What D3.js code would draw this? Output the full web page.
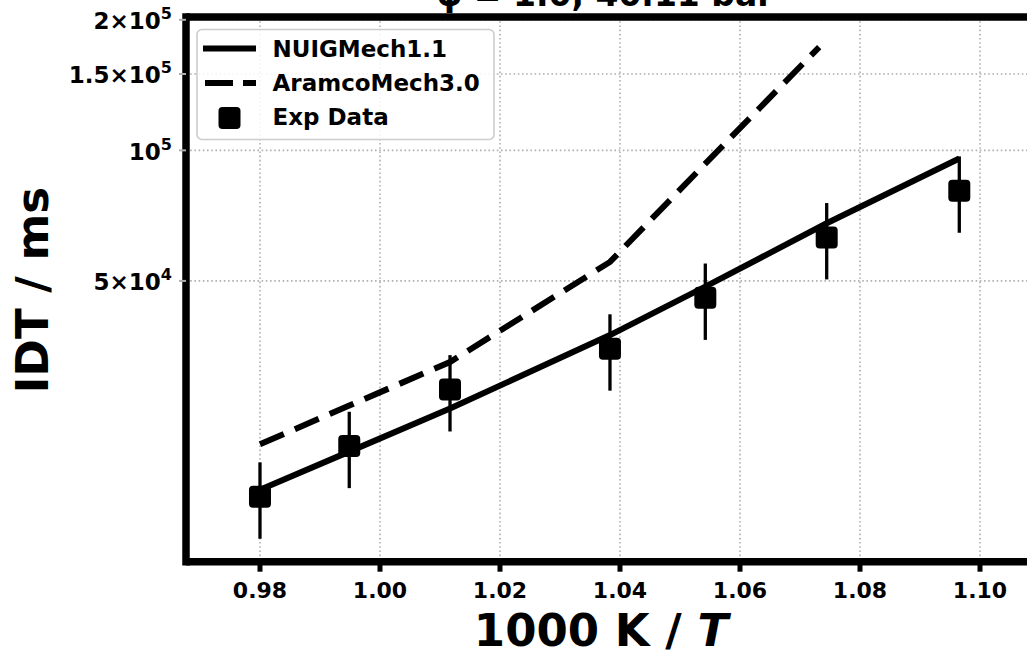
<!DOCTYPE html>
<html>
<head>
<meta charset="utf-8">
<script src="https://cdn.jsdelivr.net/npm/d3@7"></script>
<style>
  html, body { margin: 0; padding: 0; background: #fff; }
  svg { display: block; font-family: "DejaVu Sans", sans-serif; font-weight: bold; }
</style>
</head>
<body>
<svg id="chart" width="1027" height="657"></svg>
<script>
// ---- data ----
const expX = [0.98, 0.99488, 1.01167, 1.03833, 1.05422, 1.07445, 1.09655];
const expY = [15900, 20800, 28100, 34900, 45700, 63000, 80700];
const expErrFrac = 0.20;

const nuigX = [0.98, 0.99488, 1.01167, 1.03833, 1.05422, 1.07445, 1.09655];
const nuigY = [16500, 20200, 25400, 37500, 48500, 67900, 95800];

const aramcoX = [0.98, 0.99488, 1.01167, 1.03833, 1.05422, 1.0732];
const aramcoY = [21000, 25800, 32500, 55300, 93200, 173000];

const xTicks = [0.98, 1.00, 1.02, 1.04, 1.06, 1.08, 1.10];
const yTicks = [50000, 100000, 150000, 200000];
const yTickLabels = [["5×10", "4"], ["10", "5"], ["1.5×10", "5"], ["2×10", "5"]];

const legendLabels = ["NUIGMech1.1", "AramcoMech3.0", "Exp Data"];
const titleText = "φ = 1.0, 40.11 bar";
const xLabel = "1000 K / ";
const xLabelItalic = "T";
const yLabel = "IDT / ms";

// ---- layout ----
const svg = d3.select("#chart");
const pL = 186, pR = 1202, pT = 17, pB = 561.7;

const x = d3.scaleLinear().domain([0.96767, 1.1370]).range([pL, pR]);
const y = d3.scaleLog().domain([11260, 203000]).range([pB, pT]);

svg.append("rect").attr("width", 1027).attr("height", 657).attr("fill", "#fff");

// grid
const grid = svg.append("g");
grid.selectAll("line.gx").data(xTicks).enter().append("line")
  .attr("x1", d => x(d)).attr("x2", d => x(d))
  .attr("y1", pT).attr("y2", pB)
  .attr("stroke", "#b0b0b0").attr("stroke-width", 1.6).attr("stroke-dasharray", "1.6,2.6");
grid.selectAll("line.gy").data(yTicks).enter().append("line")
  .attr("x1", pL).attr("x2", pR)
  .attr("y1", d => y(d)).attr("y2", d => y(d))
  .attr("stroke", "#b0b0b0").attr("stroke-width", 1.6).attr("stroke-dasharray", "1.6,2.6");

// lines
const line = d3.line().x(d => x(d[0])).y(d => y(d[1]));
svg.append("path")
  .datum(nuigX.map((v, i) => [v, nuigY[i]]))
  .attr("d", line).attr("fill", "none").attr("stroke", "#000")
  .attr("stroke-width", 6).attr("stroke-linejoin", "round");
svg.append("path")
  .datum(aramcoX.map((v, i) => [v, aramcoY[i]]))
  .attr("d", line).attr("fill", "none").attr("stroke", "#000")
  .attr("stroke-width", 6).attr("stroke-dasharray", "26,12");

// error bars
svg.selectAll("line.err").data(expX).enter().append("line")
  .attr("x1", d => x(d)).attr("x2", d => x(d))
  .attr("y1", (d, i) => y(expY[i] * (1 + expErrFrac)))
  .attr("y2", (d, i) => y(expY[i] * (1 - expErrFrac)))
  .attr("stroke", "#000").attr("stroke-width", 3.3);

// markers
const ms = 22;
svg.selectAll("rect.mk").data(expX).enter().append("rect")
  .attr("x", d => x(d) - ms / 2)
  .attr("y", (d, i) => y(expY[i]) - ms / 2)
  .attr("width", ms).attr("height", ms).attr("rx", 4)
  .attr("fill", "#000");

// spines
svg.append("line").attr("x1", pL).attr("x2", 1027).attr("y1", pT).attr("y2", pT)
  .attr("stroke", "#000").attr("stroke-width", 7.5);
svg.append("line").attr("x1", pL).attr("x2", 1027).attr("y1", pB).attr("y2", pB)
  .attr("stroke", "#000").attr("stroke-width", 7.5);
svg.append("line").attr("x1", pL).attr("x2", pL).attr("y1", pT - 3.75).attr("y2", pB + 3.75)
  .attr("stroke", "#000").attr("stroke-width", 7.5);

// x ticks
svg.selectAll("line.xt").data(xTicks).enter().append("line")
  .attr("x1", d => x(d)).attr("x2", d => x(d))
  .attr("y1", pB).attr("y2", pB + 10)
  .attr("stroke", "#000").attr("stroke-width", 5);
svg.selectAll("text.xt").data(xTicks).enter().append("text")
  .attr("x", d => x(d)).attr("y", 598)
  .attr("text-anchor", "middle").attr("font-size", 22)
  .text(d => d.toFixed(2));

// y ticks
svg.selectAll("line.yt").data(yTicks).enter().append("line")
  .attr("x1", pL - 7).attr("x2", pL)
  .attr("y1", d => y(d)).attr("y2", d => y(d))
  .attr("stroke", "#b0b0b0").attr("stroke-width", 2);
const yt = svg.selectAll("text.yt").data(yTicks).enter().append("text")
  .attr("x", 172).attr("y", d => y(d) + 9.5)
  .attr("text-anchor", "end").attr("font-size", 23);
yt.append("tspan").text((d, i) => yTickLabels[i][0]);
yt.append("tspan").attr("font-size", 16).attr("dy", -10).text((d, i) => yTickLabels[i][1]);

// axis labels
const xl = svg.append("text").attr("x", 601).attr("y", 646)
  .attr("text-anchor", "middle").attr("font-size", 45);
xl.append("tspan").text(xLabel);
xl.append("tspan").attr("font-style", "italic").text(xLabelItalic);

svg.append("text").attr("transform", "translate(48,290) rotate(-90)")
  .attr("text-anchor", "middle").attr("font-size", 45).text(yLabel);

// title (cut off at the top edge, as in the reference)
svg.append("text").attr("x", 605).attr("y", 6)
  .attr("text-anchor", "middle").attr("font-size", 33).text(titleText);

// legend
const lg = svg.append("g");
lg.append("rect").attr("x", 197).attr("y", 29.5).attr("width", 297).attr("height", 110)
  .attr("rx", 5).attr("fill", "#fff").attr("fill-opacity", 0.85)
  .attr("stroke", "#cccccc").attr("stroke-width", 1.6);
lg.append("line").attr("x1", 203).attr("x2", 256).attr("y1", 48.5).attr("y2", 48.5)
  .attr("stroke", "#000").attr("stroke-width", 6);
lg.append("line").attr("x1", 205).attr("x2", 256).attr("y1", 83).attr("y2", 83)
  .attr("stroke", "#000").attr("stroke-width", 6).attr("stroke-dasharray", "28,10");
lg.append("rect").attr("x", 229.5 - ms / 2).attr("y", 118 - ms / 2)
  .attr("width", ms).attr("height", ms).attr("rx", 4).attr("fill", "#000");
lg.selectAll("text.lg").data(legendLabels).enter().append("text")
  .attr("x", 272.5).attr("y", (d, i) => 57 + i * 34.2)
  .attr("font-size", 23).text(d => d);
</script>
</body>
</html>
